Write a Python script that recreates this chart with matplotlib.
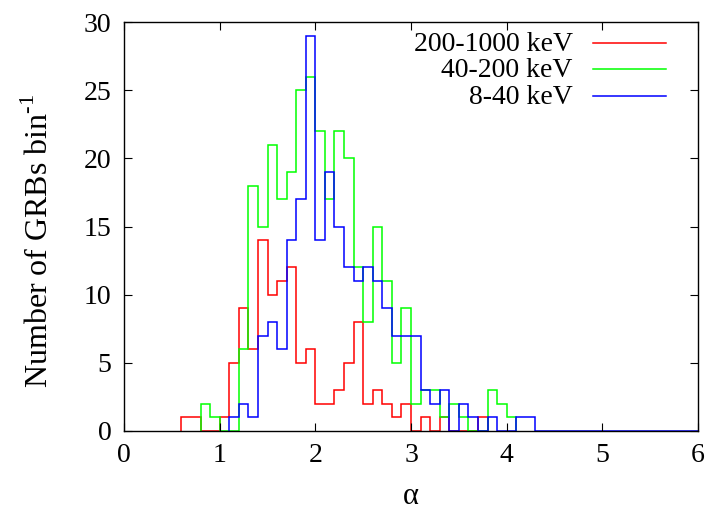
import numpy as np
import matplotlib
matplotlib.use("Agg")
import matplotlib.pyplot as plt
from matplotlib.lines import Line2D

plt.rcParams['font.family'] = ['Liberation Serif', 'DejaVu Serif']
plt.rcParams['mathtext.fontset'] = 'custom'
plt.rcParams['mathtext.rm'] = 'Liberation Serif'

bin_width = 0.1

# 200-1000 keV, bins starting at 0.6
red_start = 0.6
red_counts = [1, 1, 0, 0, 1, 5, 9, 6, 14, 10, 11, 12, 5, 6, 2, 2, 3, 5, 8, 2,
              3, 2, 1, 2, 0, 1, 0, 1, 0, 0, 0, 1]

# 40-200 keV, bins starting at 0.8
green_start = 0.8
green_counts = [2, 1, 0, 0, 6, 18, 15, 21, 17, 19, 25, 26, 22, 17, 22, 20, 12, 8,
                15, 11, 5, 9, 2, 3, 3, 1, 2, 1, 0, 0, 3, 2, 1]

# 8-40 keV, bins starting at 1.1
blue_start = 1.1
blue_counts = [1, 2, 1, 7, 8, 6, 14, 17, 29, 14, 19, 15, 12, 11, 12, 11, 9, 7, 7,
               7, 3, 2, 3, 0, 2, 1, 0, 1, 0, 0, 1, 1] + [0] * 17

labels = ["200-1000 keV", "40-200 keV", "8-40 keV"]
colors = ["#ff0000", "#00ff00", "#0000ff"]

x_ticks = [0, 1, 2, 3, 4, 5, 6]
y_ticks = [0, 5, 10, 15, 20, 25, 30]

fig = plt.figure(figsize=(7.11, 5.12), dpi=100)
ax = fig.add_axes([124/711, 1-431/512, (698-124)/711, (431-22)/512])

series = [(red_start, red_counts), (green_start, green_counts), (blue_start, blue_counts)]
for (start, counts), lab, col in zip(series, labels, colors):
    counts = np.array(counts, dtype=float)
    edges = np.round(start + bin_width * np.arange(len(counts) + 1), 3)
    ax.stairs(counts, edges, baseline=0, fill=False, color=col, lw=1.1, label=lab)

ax.set_xlim(0, 6)
ax.set_ylim(0, 30)
ax.set_xticks(x_ticks)
ax.set_yticks(y_ticks)
ax.tick_params(direction='in', length=6, width=0.8, top=True, right=True,
               labelsize=20)
ax.tick_params(axis='x', pad=9)
ax.tick_params(axis='y', pad=9)
for s in ax.spines.values():
    s.set_linewidth(1.0)

ax.set_xlabel("α", fontsize=22, labelpad=10)
ax.set_ylabel(r"Number of GRBs bin$^{\text{-}1}$", fontsize=23)
ax.yaxis.set_label_coords(-0.12, 0.465)

# legend: right-aligned labels with line samples to their right
row_y = [0.945, 0.882, 0.816]
for lab, col, yy in zip(labels, colors, row_y):
    ax.text(0.782, yy, lab, transform=ax.transAxes, ha='right', va='center',
            fontsize=20)
    ax.add_line(Line2D([0.817, 0.944], [yy + 0.004, yy + 0.004], transform=ax.transAxes,
                       color=col, lw=1.1))

fig.savefig("out.png", dpi=100)
